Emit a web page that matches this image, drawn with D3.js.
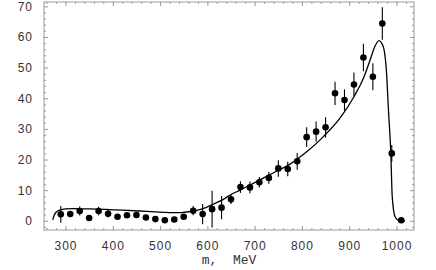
<!DOCTYPE html>
<html>
<head>
<meta charset="utf-8">
<script src="https://cdn.jsdelivr.net/npm/d3@7"></script>
<style>
  body { margin: 0; background: #fff; }
  .tick text { font-family: "Liberation Sans", Arial, sans-serif; font-size: 12px; fill: #333; letter-spacing: 1px; }
  .domain { stroke: none; }
</style>
</head>
<body>
<script>
// size of the picture
var width = 436;
var height = 270;
var margin = {left: 44, right: 22, top: 2, bottom: 40};

// measured points: mass (MeV), value, error
var massPts = [290, 310, 330, 350, 370, 390, 410, 430, 450, 470, 490, 510, 530, 550, 570,
               590, 610, 630, 650, 670, 690, 710, 730, 750, 770, 790, 810, 830, 850, 870,
               890, 910, 930, 950, 970, 990, 1010];
var valuePts = [2.1, 2.2, 3.2, 0.9, 3.2, 2.3, 1.3, 1.8, 1.9, 1.1, 0.55, 0.2, 0.45, 1.3, 3.3,
                2.2, 3.8, 4.3, 7.0, 11.0, 10.9, 12.6, 14.0, 17.1, 16.9, 19.4, 27.3, 29.1, 30.5, 41.6,
                39.4, 44.5, 53.3, 47.0, 64.4, 22.0, 0.2];
var errPts = [2.7, 1.0, 1.5, 0.8, 1.4, 1.2, 0.6, 0.5, 0.5, 0.4, 0.3, 0.3, 0.3, 0.5, 1.5,
              3.3, 6.0, 3.8, 1.5, 1.9, 1.9, 1.7, 1.9, 2.7, 2.4, 2.7, 3.2, 3.3, 3.3, 3.8,
              3.5, 3.9, 4.5, 4.4, 5.3, 2.7, 0.3];

// fitted curve
var curveM = [273, 276, 280, 288, 300, 316, 350, 387, 420, 457, 490, 520, 545, 563, 580,
              598, 615, 634, 650, 669, 704, 739, 775, 810, 845, 880, 910, 930, 944, 954,
              963, 972, 979, 983, 988, 991, 997, 1004, 1018];
var curveV = [0.3, 1.8, 2.8, 3.5, 3.9, 4.0, 3.9, 3.7, 3.5, 3.2, 2.9, 2.7, 2.7, 3.0, 3.5,
              4.4, 5.6, 7.0, 8.6, 10.0, 12.8, 15.6, 18.5, 22.5, 27.4, 33.4, 40.5, 46.5, 52.4, 56.8,
              58.8, 56.8, 48.1, 36.1, 22.0, 7.8, 1.3, 0.2, 0.0];

// ticks
var xTicks = [300, 400, 500, 600, 700, 800, 900, 1000];
var yTicks = [0, 10, 20, 30, 40, 50, 60, 70];
var xLabel = "m,  MeV";

var svg = d3.select("body").append("svg")
            .attr("width", width)
            .attr("height", height);

var x = d3.scaleLinear().domain([254.5, 1037]).range([margin.left, width - margin.right]);
var y = d3.scaleLinear().domain([-3, 71.4]).range([height - margin.bottom, margin.top]);

var x0 = margin.left, x1 = width - margin.right;
var y0 = height - margin.bottom, y1 = margin.top;

// minor tick values
var xMinor = d3.range(260, 1037, 20).filter(function(d){ return d % 100 != 0; });
var yMinor = d3.range(-2, 71.4, 2).filter(function(d){ return d % 10 != 0; });

// frame
svg.append("rect")
   .attr("x", x0).attr("y", y1)
   .attr("width", x1 - x0).attr("height", y0 - y1)
   .attr("fill", "none")
   .attr("stroke", "#999")
   .attr("stroke-width", 1);

// axes with inward ticks
function frameAxis(axis, tx, ty, vals, size, labels) {
  var g = svg.append("g")
     .attr("transform", "translate(" + tx + "," + ty + ")")
     .call(axis.tickValues(vals).tickSizeInner(-size).tickSizeOuter(0)
               .tickPadding(labels ? 7 + size : 0)
               .tickFormat(labels ? d3.format("d") : ""));
  g.selectAll(".tick line").attr("stroke", "#999");
  return g;
}

frameAxis(d3.axisBottom(x), 0, y0, xTicks, 4, true);
frameAxis(d3.axisBottom(x), 0, y0, xMinor, 2, false);
frameAxis(d3.axisTop(x), 0, y1, xTicks, 4, false);
frameAxis(d3.axisTop(x), 0, y1, xMinor, 2, false);
frameAxis(d3.axisLeft(y), x0, 0, yTicks, 4, true);
frameAxis(d3.axisLeft(y), x0, 0, yMinor, 2, false);
frameAxis(d3.axisRight(y), x1, 0, yTicks, 4, false);
frameAxis(d3.axisRight(y), x1, 0, yMinor, 2, false);

// axis label
svg.append("text")
   .attr("x", (x0 + x1) / 2)
   .attr("y", 264)
   .attr("text-anchor", "middle")
   .attr("font-family", "'Liberation Mono', 'DejaVu Sans Mono', monospace")
   .attr("font-size", 13)
   .attr("fill", "#333")
   .attr("xml:space", "preserve")
   .text(xLabel);

// curve
var line = d3.line()
             .x(function(d){ return x(d[0]); })
             .y(function(d){ return y(d[1]); })
             .curve(d3.curveMonotoneX);

svg.append("path")
   .datum(d3.zip(curveM, curveV))
   .attr("d", line)
   .attr("fill", "none")
   .attr("stroke", "#000")
   .attr("stroke-width", 1.3);

// points with error bars
var pts = massPts.map(function(m, i){ return {m: m, v: valuePts[i], e: errPts[i]}; });

svg.append("g").selectAll("line")
   .data(pts)
   .enter().append("line")
   .attr("x1", function(d){ return x(d.m); })
   .attr("x2", function(d){ return x(d.m); })
   .attr("y1", function(d){ return y(d.v - d.e); })
   .attr("y2", function(d){ return y(d.v + d.e); })
   .attr("stroke", "#000")
   .attr("stroke-width", 1.1);

svg.append("g").selectAll("circle")
   .data(pts)
   .enter().append("circle")
   .attr("cx", function(d){ return x(d.m); })
   .attr("cy", function(d){ return y(d.v); })
   .attr("r", 3.3)
   .attr("fill", "#000");
</script>
</body>
</html>
